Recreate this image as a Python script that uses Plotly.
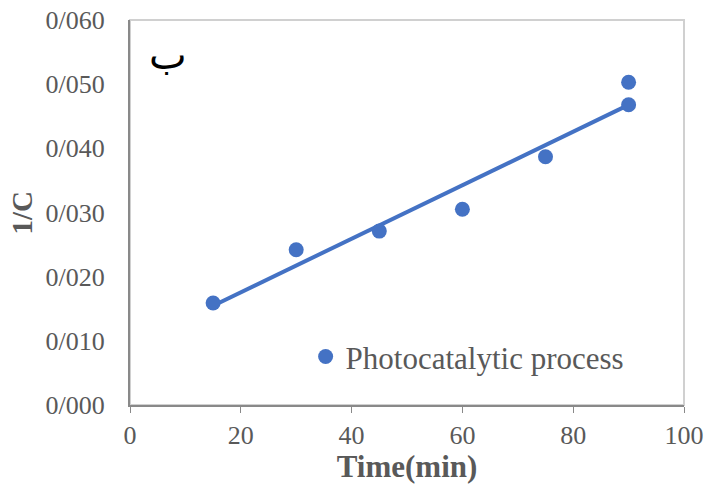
import numpy as np
import plotly.graph_objects as go

time_min = [15, 30, 45, 60, 75, 90, 90]
inv_c = [0.0159, 0.0242, 0.0271, 0.0305, 0.0387, 0.0468, 0.0503]
y_ticks = [0.0, 0.01, 0.02, 0.03, 0.04, 0.05, 0.06]
y_tick_labels = ["0/000", "0/010", "0/020", "0/030", "0/040", "0/050", "0/060"]
x_ticks = [0, 20, 40, 60, 80, 100]

slope, intercept = np.polyfit(time_min, inv_c, 1)
fit_x = [min(time_min), max(time_min)]
fit_y = [slope * v + intercept for v in fit_x]

blue = "#4472C4"
grey = "#595959"
font = "Liberation Serif, Times New Roman, serif"

fig = go.Figure()
fig.add_trace(go.Scatter(x=fit_x, y=fit_y, mode="lines",
                         line=dict(color=blue, width=4), showlegend=False,
                         hoverinfo="skip"))
fig.add_trace(go.Scatter(x=time_min, y=inv_c, mode="markers",
                         marker=dict(color=blue, size=15),
                         name="Photocatalytic process"))

fig.add_shape(type="rect", xref="x domain", yref="y domain", x0=0, x1=1, y0=0, y1=1,
              line=dict(color="#d0d0d0", width=2), layer="below")

fig.add_annotation(text="ب", xref="x domain", yref="y domain", x=0.03, y=0.975,
                   showarrow=False, font=dict(family="DejaVu Sans, sans-serif", size=40, color="black"))

fig.add_annotation(text="<b>1/C</b>", xref="paper", yref="paper", x=-0.195, y=0.5,
                   textangle=-90, showarrow=False, xanchor="center", yanchor="middle",
                   font=dict(size=29, color=grey))

fig.update_layout(
    width=706, height=484,
    margin=dict(l=130, r=22, t=20, b=79),
    paper_bgcolor="white", plot_bgcolor="white",
    font=dict(family=font, color=grey, size=26),
    legend=dict(x=0.317, y=0.125, xanchor="left", yanchor="middle",
                bgcolor="rgba(0,0,0,0)", font=dict(size=31, color=grey)),
    xaxis=dict(range=[0, 100], tickvals=x_ticks, showgrid=False, zeroline=False,
               automargin=False,
               showline=True, linecolor="#898989", linewidth=2,
               ticks="outside", ticklen=6, tickcolor="#898989", tickwidth=1,
               tickfont=dict(size=26, color=grey),
               title=dict(text="<b>Time(min)</b>", font=dict(size=31, color=grey), standoff=8)),
    yaxis=dict(range=[0, 0.06], tickvals=y_ticks, ticktext=y_tick_labels,
               showgrid=False, zeroline=False, showline=True, linecolor="#898989",
               automargin=False,
               linewidth=2, ticks="", ticklabelstandoff=18,
               tickfont=dict(size=26, color=grey)),
)

fig.write_html("out.html")
